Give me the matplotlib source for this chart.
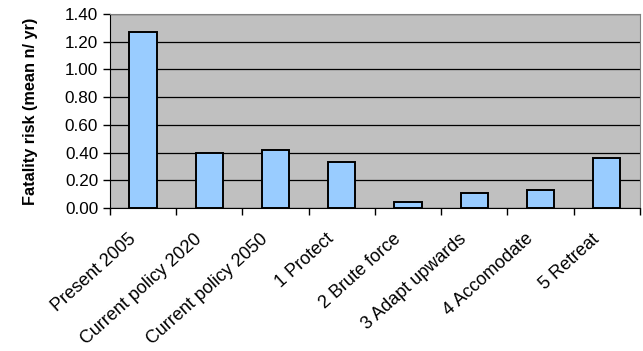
import matplotlib.pyplot as plt
import matplotlib.transforms as mtrans
import numpy as np

plt.rcParams['font.family'] = ['Liberation Sans', 'DejaVu Sans']

# 数据
scenarios = ["Present 2005", "Current policy 2020", "Current policy 2050", "1 Protect",
             "2 Brute force", "3 Adapt upwards", "4 Accomodate", "5 Retreat"]
risk = [1.27, 0.40, 0.42, 0.33, 0.045, 0.11, 0.13, 0.36]
y_ticks = [0.0, 0.2, 0.4, 0.6, 0.8, 1.0, 1.2, 1.4]


def draw():
	fig = plt.figure(figsize=(6.43, 3.51), dpi=100)
	ax = fig.add_axes([0.171, 0.407, 0.824, 0.553])
	ax.set_facecolor("#C0C0C0")

	x = np.arange(len(scenarios))
	ax.bar(x, risk, width=0.41, color="#99CCFF", edgecolor="black", linewidth=1.4, zorder=3)

	ax.set_xlim(-0.5, len(scenarios) - 0.5)
	ax.set_ylim(0, 1.4)
	ax.set_yticks(y_ticks)
	ax.set_yticklabels(["%.2f" % v for v in y_ticks], fontsize=12.3)
	ax.yaxis.grid(True, color="black", linewidth=0.9, zorder=1)
	ax.set_axisbelow(True)

	# 类别刻度放在分隔处，标签放在柱子中心
	ax.set_xticks(np.arange(len(scenarios) + 1) - 0.5)
	ax.set_xticklabels([])
	ax.set_xticks(x, minor=True)
	ax.set_xticklabels(scenarios, minor=True, rotation=42, ha="right", va="top",
	                   rotation_mode="anchor", fontsize=13)
	ax.tick_params(axis="x", which="minor", length=0, pad=16)
	ax.tick_params(axis="x", which="major", length=5, width=1)
	ax.tick_params(axis="y", length=5, width=1)
	shift = mtrans.ScaledTranslation(-0.155, 0, fig.dpi_scale_trans)
	for lab in ax.get_xticklabels(minor=True):
		lab.set_transform(lab.get_transform() + shift)

	for side in ["top", "right"]:
		ax.spines[side].set_color("#808080")
	for side in ["left", "bottom"]:
		ax.spines[side].set_color("black")

	ax.set_ylabel("Fatality risk (mean n/ yr)", fontsize=11.7, fontweight="bold", labelpad=19)
	fig.savefig("out.png", dpi=100)


if __name__ == "__main__":
	draw()
